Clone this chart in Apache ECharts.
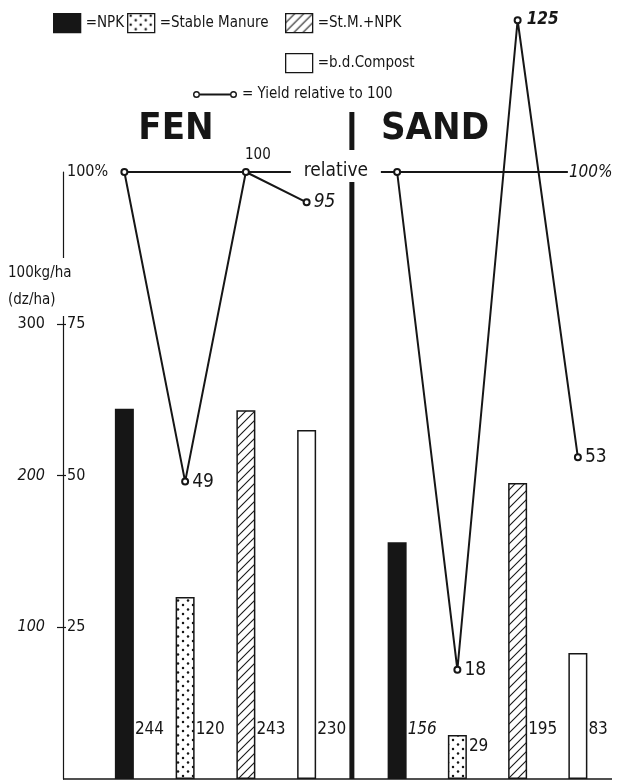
<!DOCTYPE html>
<html><head><meta charset="utf-8">
<script src="https://cdn.jsdelivr.net/npm/echarts@6/dist/echarts.min.js"></script>
<style>html,body{margin:0;padding:0;background:#fff}#c{width:622px;height:783px}</style>
</head><body><div id="c"></div>
<script>
// ---- data ----
const groups = ['FEN', 'SAND'];
const treatments = ['NPK', 'Stable Manure', 'St.M.+NPK', 'b.d.Compost'];
const fenYield = [244, 120, 243, 230];
const sandYield = [156, 29, 195, 83];
const fenRelative = [100, 49, 100, 95];
const sandRelative = [100, 18, 125, 53];
const yieldTickLabels = [100, 200, 300];
const relativeTickLabels = [25, 50, 75, 100];
const lineName = 'Yield relative to 100';
const axisName = '100kg/ha\n(dz/ha)';

// ---- style / layout ----
const FONT = "'DejaVu Sans Condensed', 'DejaVu Sans', sans-serif";
const INK = '#161616';
const GRID_TOP = 172, GRID_BOTTOM = 4;
const FEN_LEFT = 94, FEN_WIDTH = 243, SAND_LEFT = 367, SAND_WIDTH = 241;
const AXIS_OFFSET = 31;

function dotPattern() {
  const c = document.createElement('canvas'); c.width = 10; c.height = 9;
  const g = c.getContext('2d'); g.fillStyle = '#fff'; g.fillRect(0, 0, 10, 9);
  g.fillStyle = INK;
  g.beginPath(); g.arc(3, 2, 1.25, 0, 7); g.fill();
  g.beginPath(); g.arc(8, 6.5, 1.25, 0, 7); g.fill();
  return c;
}
function hatchPattern() {
  const s = 9; const c = document.createElement('canvas'); c.width = s; c.height = s;
  const g = c.getContext('2d'); g.fillStyle = '#fff'; g.fillRect(0, 0, s, s);
  g.strokeStyle = INK; g.lineWidth = 1.1;
  g.beginPath(); g.moveTo(-1, s + 1); g.lineTo(s + 1, -1); g.stroke();
  g.beginPath(); g.moveTo(-1, 1); g.lineTo(1, -1); g.stroke();
  g.beginPath(); g.moveTo(s - 1, s + 1); g.lineTo(s + 1, s - 1); g.stroke();
  return c;
}
const barStyles = [
  { color: INK, borderColor: INK, borderWidth: 0 },
  { color: { image: dotPattern(), repeat: 'repeat' }, borderColor: INK, borderWidth: 1.5 },
  { color: { image: hatchPattern(), repeat: 'repeat' }, borderColor: INK, borderWidth: 1.5 },
  { color: '#fff', borderColor: INK, borderWidth: 1.5 }
];

const chart = echarts.init(document.getElementById('c'), null, { renderer: 'canvas' });

function barSeries(gi, values) {
  return treatments.map((t, i) => {
    const v = values[i];
    const short = v < 60;
    return {
      type: 'bar', name: t, xAxisIndex: gi, yAxisIndex: gi * 2,
      barWidth: 19, barGap: '-100%',
      itemStyle: barStyles[i],
      data: [{ value: [t, v] }],
      label: {
        show: true, position: short ? 'right' : 'insideBottomLeft', distance: short ? 2 : 0,
        offset: short ? [0, -10] : [20, -41],
        formatter: p => p.value[1], color: INK, fontFamily: FONT, fontSize: 17,
        fontStyle: gi === 1 && i === 0 ? 'italic' : 'normal'
      },
      z: 2
    };
  });
}

const lineLabelBase = { show: true, position: 'right', distance: 3, color: INK, fontFamily: FONT, fontSize: 19 };
const fenLabelCfg = [
  { show: false },
  lineLabelBase,
  { show: true, position: 'top', distance: 5, offset: [12, 0], color: INK, fontFamily: FONT, fontSize: 15 },
  Object.assign({}, lineLabelBase, { fontStyle: 'italic' })
];
const sandLabelCfg = [
  { show: false },
  lineLabelBase,
  Object.assign({}, lineLabelBase, { fontStyle: 'italic', fontWeight: 'bold', fontSize: 17, offset: [2, -1] }),
  lineLabelBase
];
function lineSeries(gi, values, labelCfg) {
  return {
    type: 'line', name: lineName, xAxisIndex: gi, yAxisIndex: gi * 2 + 1,
    clip: false, symbol: 'emptyCircle', symbolSize: 6, z: 5,
    lineStyle: { color: INK, width: 2 },
    itemStyle: { color: INK, borderWidth: 1.3 },
    data: values.map((v, i) => ({ value: v, label: labelCfg[i] }))
  };
}

const legendText = { color: INK, fontFamily: FONT, fontSize: 15 };
const legendBase = {
  orient: 'horizontal', padding: 0, itemWidth: 27, itemHeight: 19, itemGap: 3,
  icon: 'rect', selectedMode: false, formatter: '={name}', textStyle: legendText,
  itemStyle: { borderWidth: 1.3 }
};
const yieldLegendIcon = 'path://M0,3.5a3.5,3.5 0 1,0 7,0a3.5,3.5 0 1,0 -7,0Z M1.4,3.5a2.1,2.1 0 1,1 4.2,0a2.1,2.1 0 1,1 -4.2,0Z M7,2.6L37,2.6L37,4.4L7,4.4Z M37,3.5a3.5,3.5 0 1,0 7,0a3.5,3.5 0 1,0 -7,0Z M38.4,3.5a2.1,2.1 0 1,1 4.2,0a2.1,2.1 0 1,1 -4.2,0Z';

const option = {
  backgroundColor: '#fff',
  animation: false,
  textStyle: { fontFamily: FONT },
  legend: [
    Object.assign({}, legendBase, { data: [treatments[0], treatments[1]], left: 53, top: 13 }),
    Object.assign({}, legendBase, { data: [treatments[2]], left: 285, top: 13 }),
    Object.assign({}, legendBase, { data: [treatments[3]], left: 285, top: 53 }),
    Object.assign({}, legendBase, {
      data: [lineName], left: 193, top: 87, itemWidth: 44, itemHeight: 7, icon: yieldLegendIcon,
      formatter: '= {name}', itemStyle: { color: INK, borderWidth: 0 }
    })
  ],
  grid: [
    { left: FEN_LEFT, width: FEN_WIDTH, top: GRID_TOP, bottom: GRID_BOTTOM },
    { left: SAND_LEFT, width: SAND_WIDTH, top: GRID_TOP, bottom: GRID_BOTTOM }
  ],
  xAxis: [
    { gridIndex: 0, type: 'category', data: treatments, show: false },
    { gridIndex: 1, type: 'category', data: treatments, show: false }
  ],
  yAxis: [
    {
      gridIndex: 0, type: 'value', min: 0, max: 400, interval: 100, position: 'left', offset: AXIS_OFFSET,
      axisLine: { show: true, lineStyle: { color: INK, width: 1.2 } },
      axisTick: { show: true, length: 6, lineStyle: { color: INK, width: 1.2 } },
      splitLine: { show: false },
      axisLabel: {
        margin: 18, showMinLabel: false, showMaxLabel: false, color: INK,
        formatter: v => yieldTickLabels.indexOf(v) < 0 ? '' : (v === 300 ? '{u|' + v + '}' : '{i|' + v + '}'),
        rich: {
          u: { fontFamily: FONT, fontSize: 16, color: INK },
          i: { fontFamily: FONT, fontSize: 16, color: INK, fontStyle: 'italic' }
        }
      }
    },
    {
      gridIndex: 0, type: 'value', min: 0, max: 100, interval: 25, position: 'left', offset: AXIS_OFFSET,
      axisLine: { show: false },
      axisTick: { show: true, inside: true, length: 3, customValues: [25, 50, 75], lineStyle: { color: INK, width: 1.2 } },
      splitLine: { show: false },
      axisLabel: {
        inside: true, margin: 4, showMinLabel: false, showMaxLabel: true, color: INK,
        fontFamily: FONT, fontSize: 16,
        formatter: v => relativeTickLabels.indexOf(v) < 0 ? '' : (v === 100 ? v + '%' : String(v))
      }
    },
    { gridIndex: 1, type: 'value', min: 0, max: 400, show: false, splitLine: { show: false } },
    { gridIndex: 1, type: 'value', min: 0, max: 100, show: false, splitLine: { show: false } }
  ],
  series: [].concat(
    barSeries(0, fenYield),
    barSeries(1, sandYield),
    [lineSeries(0, fenRelative, fenLabelCfg), lineSeries(1, sandRelative, sandLabelCfg)]
  )
};
chart.setOption(option);

// ---- decorations positioned through the chart's own scales ----
const P = (xi, yi, c, v) => chart.convertToPixel({ xAxisIndex: xi, yAxisIndex: yi }, [c, v]);
const refStart = P(0, 1, treatments[0], 100);
const fenLast = P(0, 1, treatments[3], 100);
const sandFirst = P(1, 3, treatments[0], 100);
const sandLast = P(1, 3, treatments[3], 100);
const base = P(0, 0, treatments[0], 0);
const refY = refStart[1];
const dividerX = (fenLast[0] + sandFirst[0]) / 2;
const axisX = FEN_LEFT - AXIS_OFFSET;
const relCenter = dividerX - 16;
const refEnd = sandLast[0] - 10;

chart.setOption({
  graphic: [
    { type: 'line', shape: { x1: refStart[0], y1: refY, x2: relCenter - 45, y2: refY }, style: { stroke: INK, lineWidth: 2 }, z: 1 },
    { type: 'line', shape: { x1: relCenter + 45, y1: refY, x2: refEnd, y2: refY }, style: { stroke: INK, lineWidth: 2 }, z: 1 },
    { type: 'text', x: relCenter, y: refY - 1, style: { text: 'relative', font: "19px " + FONT, fill: INK, align: 'center', verticalAlign: 'middle' }, z: 1 },
    { type: 'text', x: refEnd + 1, y: refY + 1, style: { text: '100%', font: "italic 17px " + FONT, fill: INK, align: 'left', verticalAlign: 'middle' }, z: 1 },
    { type: 'rect', shape: { x: dividerX - 2.5, y: 112, width: 5, height: refY - 22 - 112 }, style: { fill: INK }, z: 1 },
    { type: 'rect', shape: { x: dividerX - 2.5, y: refY + 10, width: 5, height: base[1] - refY - 10 }, style: { fill: INK }, z: 1 },
    { type: 'line', shape: { x1: axisX, y1: base[1], x2: 612, y2: base[1] }, style: { stroke: INK, lineWidth: 1.4 }, z: 1 },
    { type: 'text', x: 176, y: 110, style: { text: groups[0], font: "bold 38px " + FONT, fill: INK, align: 'center', verticalAlign: 'top' }, z: 1 },
    { type: 'text', x: 435, y: 110, style: { text: groups[1], font: "bold 38px " + FONT, fill: INK, align: 'center', verticalAlign: 'top' }, z: 1 },
    { type: 'text', x: 8, y: 258, style: { text: axisName, font: "15px " + FONT, lineHeight: 27, fill: INK, backgroundColor: '#fff', padding: [2, 2, 2, 0] }, z: 10 }
  ]
});
</script>
</body></html>
